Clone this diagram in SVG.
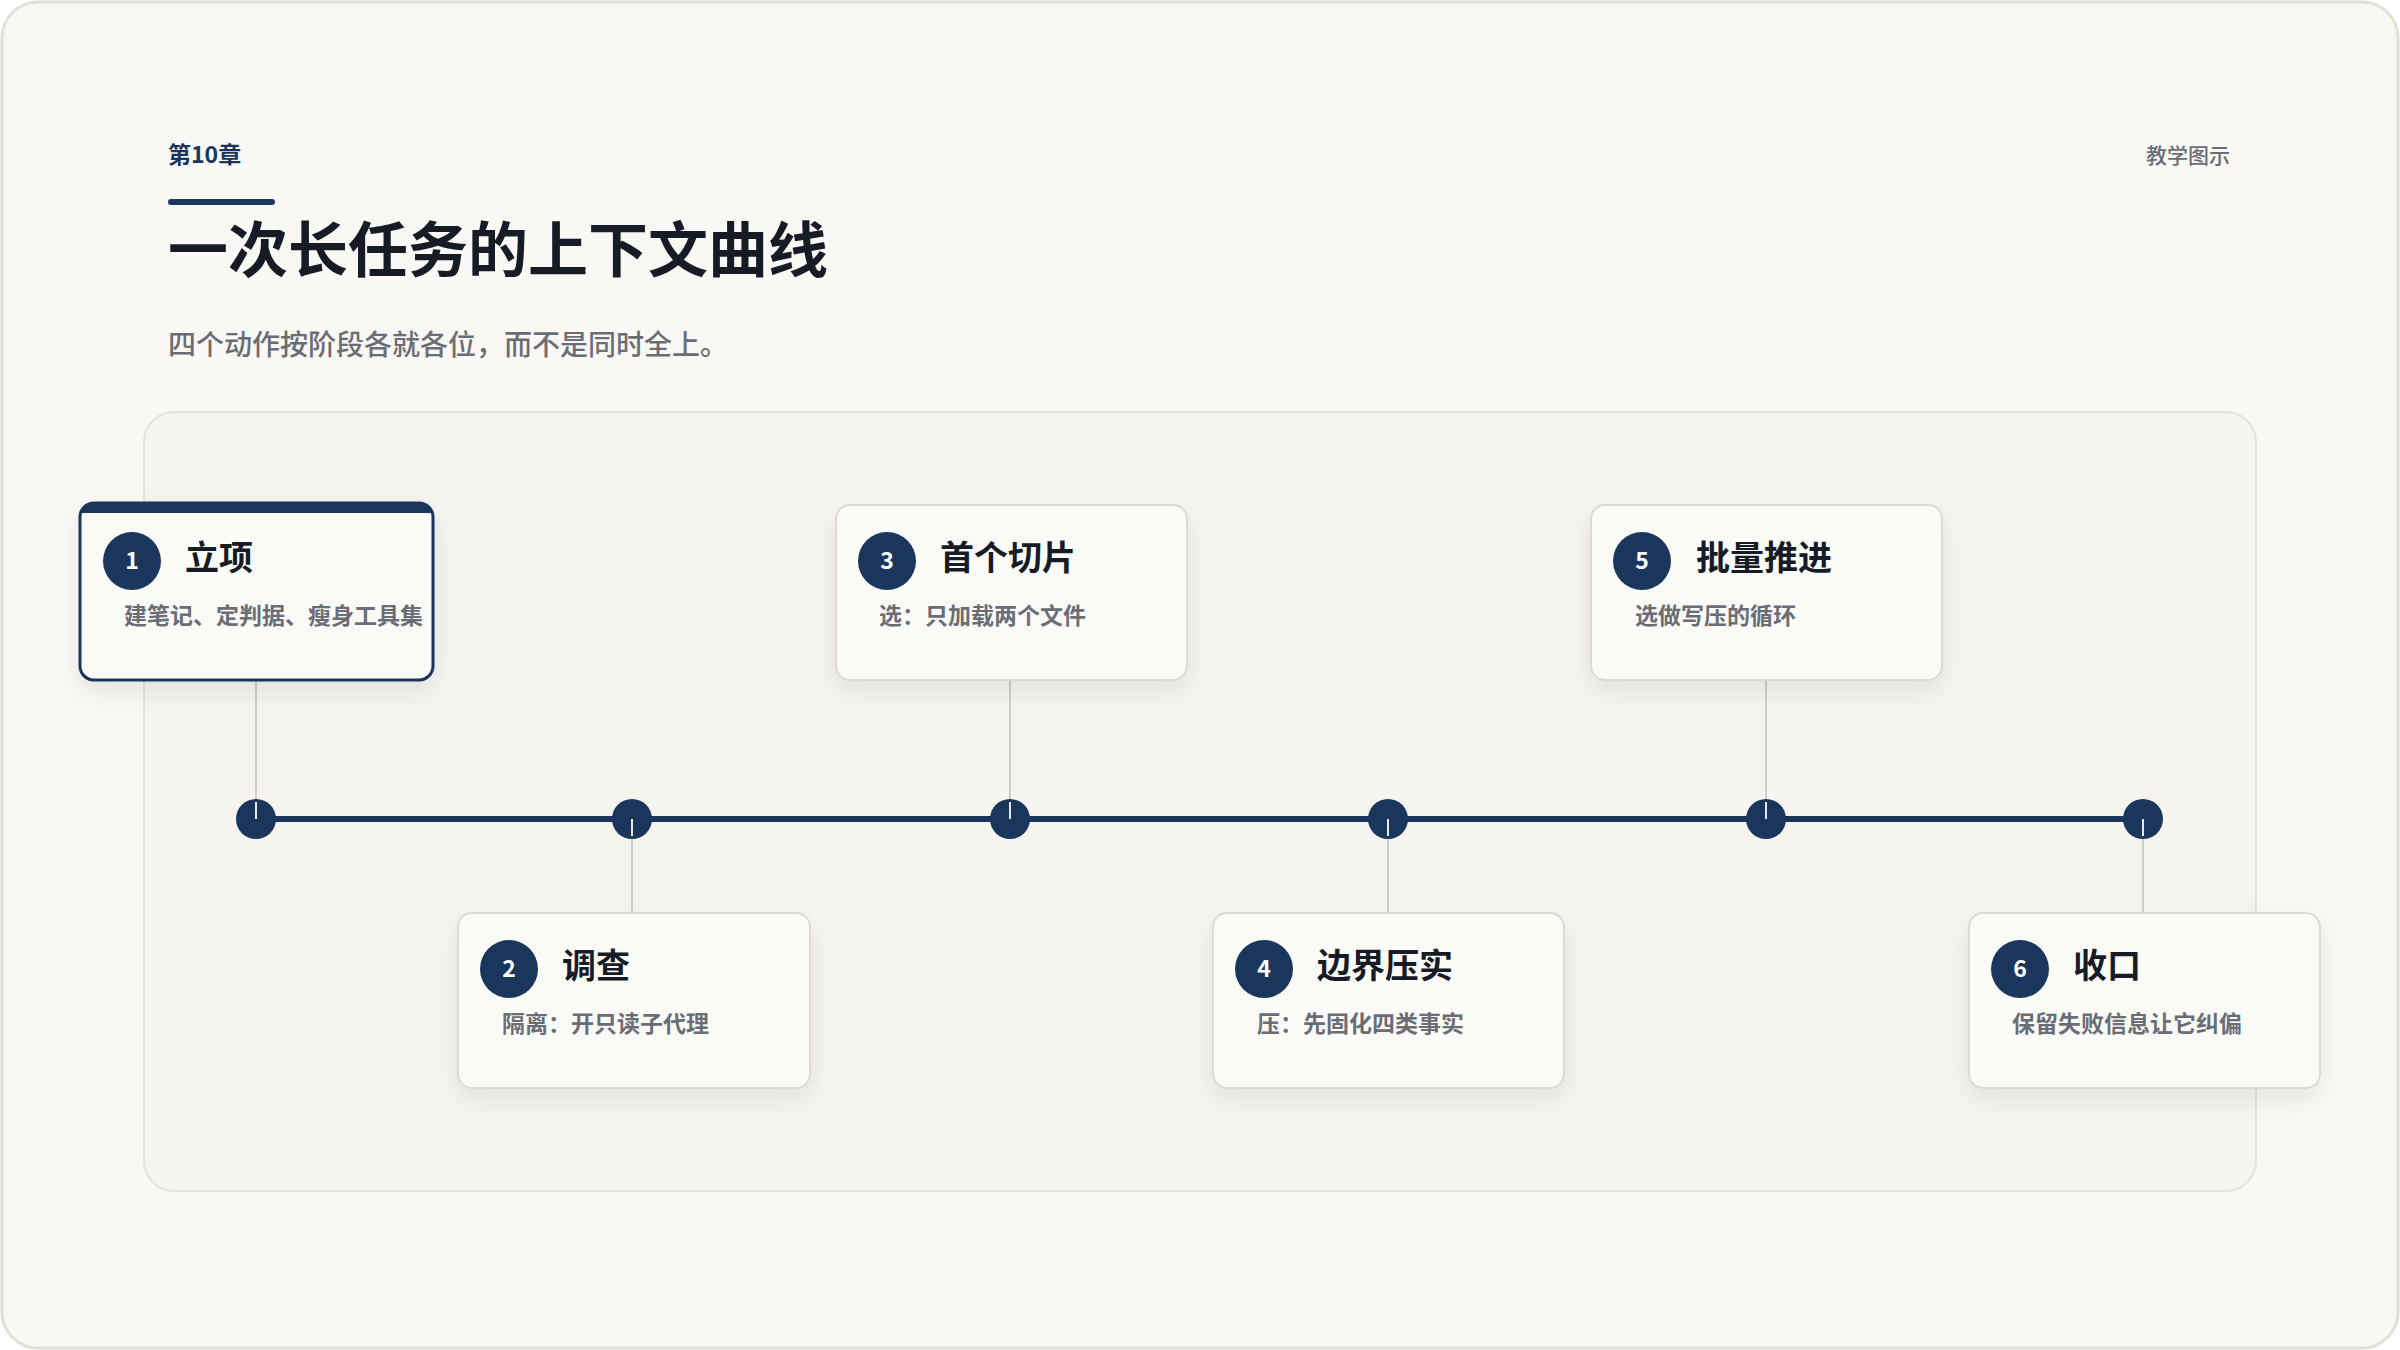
<svg xmlns="http://www.w3.org/2000/svg" width="2400" height="1350" viewBox="0 0 2400 1350">
<defs>
<filter id="sh" x="-20%" y="-20%" width="140%" height="160%"><feDropShadow dx="0" dy="10" stdDeviation="12" flood-color="#000" flood-opacity="0.08"/></filter>
<clipPath id="c1"><rect x="80" y="503" width="353" height="177" rx="14"/></clipPath>
</defs>
<style>
text{font-family:"Noto Sans CJK SC","Liberation Sans",sans-serif}
.card{fill:#fafaf6;stroke:#dcdad3;stroke-width:2;filter:url(#sh)}
.badge{fill:#1b365d}
.num{fill:#fff;font-size:23px;font-weight:700;text-anchor:middle}
.tt{fill:#161b26;font-size:34px;font-weight:700}
.st{fill:#6b6d76;font-size:23px;font-weight:700}
.conn{stroke:#cfcdc6;stroke-width:2}
.dot{fill:#1b365d}
</style>
<rect x="2" y="2" width="2396" height="1346" rx="36" fill="#f9f8f4" stroke="#e2e0d6" stroke-width="3"/>
<text x="168" y="163" fill="#1b365d" font-size="23" font-weight="700">第10章</text>
<rect x="168" y="199" width="107" height="6" rx="3" fill="#1b365d"/>
<text x="168" y="272" fill="#161b26" font-size="60" font-weight="700">一次长任务的上下文曲线</text>
<text x="168" y="355" fill="#6b6d76" font-size="28" font-weight="500">四个动作按阶段各就各位，而不是同时全上。</text>
<text x="2230" y="163" fill="#6b6d76" font-size="21" font-weight="500" text-anchor="end">教学图示</text>
<rect x="144" y="412" width="2112" height="779" rx="30" fill="#f5f4ef" stroke="#e4e2da" stroke-width="2"/>
<g id="connectors">
<line class="conn" x1="256" y1="680" x2="256" y2="819"/>
<line class="conn" x1="1010" y1="680" x2="1010" y2="819"/>
<line class="conn" x1="1766" y1="680" x2="1766" y2="819"/>
<line class="conn" x1="632" y1="819" x2="632" y2="912"/>
<line class="conn" x1="1388" y1="819" x2="1388" y2="912"/>
<line class="conn" x1="2143" y1="819" x2="2143" y2="912"/>
<line x1="256" y1="819" x2="2143" y2="819" stroke="#1b365d" stroke-width="6"/>
<circle class="dot" cx="256" cy="819" r="20"/>
<circle class="dot" cx="632" cy="819" r="20"/>
<circle class="dot" cx="1010" cy="819" r="20"/>
<circle class="dot" cx="1388" cy="819" r="20"/>
<circle class="dot" cx="1766" cy="819" r="20"/>
<circle class="dot" cx="2143" cy="819" r="20"/>
<g stroke="#e8e8e8" stroke-width="2"><line x1="256" y1="802" x2="256" y2="819"/><line x1="632" y1="819" x2="632" y2="836"/><line x1="1010" y1="802" x2="1010" y2="819"/><line x1="1388" y1="819" x2="1388" y2="836"/><line x1="1766" y1="802" x2="1766" y2="819"/><line x1="2143" y1="819" x2="2143" y2="836"/></g>
</g>
<g id="n1">
<rect x="80" y="503" width="353" height="177" rx="14" fill="#fafaf6" stroke="#1b365d" stroke-width="3" filter="url(#sh)"/>
<rect x="80" y="503" width="353" height="10" fill="#1b365d" clip-path="url(#c1)"/>
<circle class="badge" cx="132" cy="561" r="29"/><text class="num" x="132" y="569">1</text>
<text class="tt" x="185" y="570">立项</text>
<text class="st" x="124" y="624">建笔记、定判据、瘦身工具集</text>
</g>
<g id="n2">
<rect class="card" x="458" y="913" width="352" height="175" rx="14"/>
<circle class="badge" cx="509" cy="969" r="29"/><text class="num" x="509" y="977">2</text>
<text class="tt" x="562" y="978">调查</text>
<text class="st" x="502" y="1032">隔离：开只读子代理</text>
</g>
<g id="n3">
<rect class="card" x="836" y="505" width="351" height="175" rx="14"/>
<circle class="badge" cx="887" cy="561" r="29"/><text class="num" x="887" y="569">3</text>
<text class="tt" x="940" y="570">首个切片</text>
<text class="st" x="879" y="624">选：只加载两个文件</text>
</g>
<g id="n4">
<rect class="card" x="1213" y="913" width="351" height="175" rx="14"/>
<circle class="badge" cx="1264" cy="969" r="29"/><text class="num" x="1264" y="977">4</text>
<text class="tt" x="1317" y="978">边界压实</text>
<text class="st" x="1257" y="1032">压：先固化四类事实</text>
</g>
<g id="n5">
<rect class="card" x="1591" y="505" width="351" height="175" rx="14"/>
<circle class="badge" cx="1642" cy="561" r="29"/><text class="num" x="1642" y="569">5</text>
<text class="tt" x="1696" y="570">批量推进</text>
<text class="st" x="1635" y="624">选做写压的循环</text>
</g>
<g id="n6">
<rect class="card" x="1969" y="913" width="351" height="175" rx="14"/>
<circle class="badge" cx="2020" cy="969" r="29"/><text class="num" x="2020" y="977">6</text>
<text class="tt" x="2073" y="978">收口</text>
<text class="st" x="2012" y="1032">保留失败信息让它纠偏</text>
</g>
</svg>
